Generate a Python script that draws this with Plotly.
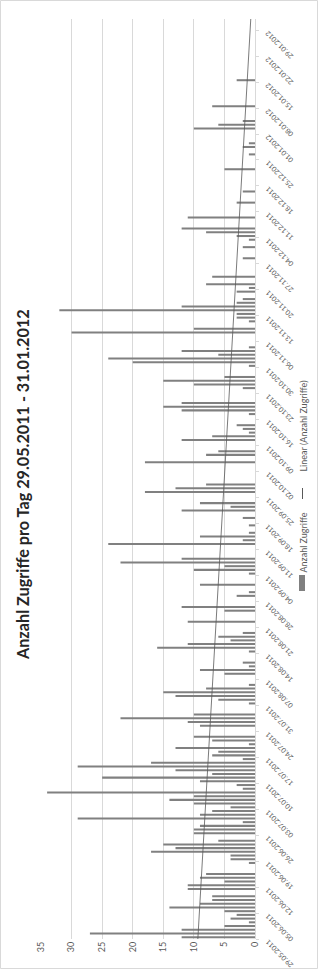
import numpy as np
import plotly.graph_objects as go

# ---------------- data ----------------
title_text = "Anzahl Zugriffe pro Tag 29.05.2011 - 31.01.2012"
series_name = "Anzahl Zugriffe"
trend_name = "Linear (Anzahl Zugriffe)"

# daily hits, one value per day from 29.05.2011 to 31.01.2012 (248 days)
daily_hits = [
    12, 27, 12, 5, 1, 4, 3, 5, 14, 9,
    7, 7, 0, 11, 11, 5, 9, 8, 0, 0,
    1, 4, 4, 17, 13, 15, 6, 0, 10, 10,
    9, 2, 29, 9, 7, 4, 10, 14, 10, 34,
    2, 3, 9, 25, 7, 13, 29, 17, 2, 7,
    6, 13, 1, 7, 10, 0, 0, 9, 11, 22,
    10, 0, 0, 1, 6, 13, 15, 8, 1, 0,
    0, 5, 9, 1, 2, 0, 0, 1, 16, 11,
    4, 6, 2, 0, 0, 11, 0, 0, 5, 12,
    0, 0, 3, 1, 0, 9, 0, 0, 1, 10,
    5, 22, 12, 0, 0, 0, 24, 2, 9, 1,
    0, 1, 0, 2, 0, 12, 4, 9, 0, 0,
    18, 13, 8, 0, 0, 0, 0, 0, 18, 0,
    8, 6, 0, 0, 12, 7, 1, 2, 3, 0,
    0, 1, 12, 15, 12, 0, 0, 0, 2, 10,
    15, 5, 0, 0, 1, 20, 24, 6, 12, 1,
    0, 0, 0, 30, 10, 0, 1, 3, 3, 32,
    12, 3, 2, 0, 3, 1, 8, 0, 7, 0,
    0, 0, 0, 2, 0, 0, 2, 0, 1, 3,
    8, 12, 0, 0, 11, 0, 0, 0, 3, 0,
    0, 2, 0, 0, 0, 0, 0, 5, 0, 0,
    0, 1, 0, 2, 1, 0, 0, 0, 10, 6,
    2, 0, 0, 0, 7, 0, 0, 0, 0, 0,
    0, 3, 0, 0, 0, 0, 0, 0, 0, 0,
    0, 0, 0, 0, 0, 0, 0, 0,
]

# weekly date-axis labels (every 7 days from the first day)
date_tick_labels = [
    "29.05.2011", "05.06.2011", "12.06.2011", "19.06.2011", "26.06.2011",
    "03.07.2011", "10.07.2011", "17.07.2011", "24.07.2011", "31.07.2011",
    "07.08.2011", "14.08.2011", "21.08.2011", "28.08.2011", "04.09.2011",
    "11.09.2011", "18.09.2011", "25.09.2011", "02.10.2011", "09.10.2011",
    "16.10.2011", "23.10.2011", "30.10.2011", "06.11.2011", "13.11.2011",
    "20.11.2011", "27.11.2011", "04.12.2011", "11.12.2011", "18.12.2011",
    "25.12.2011", "01.01.2012", "08.01.2012", "15.01.2012", "22.01.2012",
    "29.01.2012",
]
value_ticks = [0, 5, 10, 15, 20, 25, 30, 35]

# ---------------- geometry ----------------
W, H = 318, 969
L, R, T, B = 41, 63, 19, 30
PW = W - L - R
PH = H - T - B


def px(sx):
    return (sx - L) / PW


def py(sy):
    return (H - B - sy) / PH


n_days = len(daily_hits)
day_pos = np.arange(n_days) + 0.5
tick_days = [7 * k for k in range(len(date_tick_labels))]

# linear trend (least squares, like the spreadsheet trendline)
slope, intercept = np.polyfit(day_pos, np.array(daily_hits, dtype=float), 1)
trend_y = [0, n_days]
trend_x = [intercept + slope * v for v in trend_y]

BAR = "#808080"
TXT = "#595959"
GRID = "#d9d9d9"
FONT = "Lato"

fig = go.Figure()
fig.add_trace(go.Bar(
    x=daily_hits, y=day_pos, orientation="h", width=0.55,
    marker=dict(color=BAR, line=dict(width=0)), name=series_name,
    showlegend=False,
))
fig.add_trace(go.Scatter(
    x=trend_x, y=trend_y, mode="lines",
    line=dict(color="#595959", width=0.8), name=trend_name, showlegend=False,
))

fig.update_layout(
    width=W, height=H,
    margin=dict(l=L, r=R, t=T, b=B, pad=0),
    paper_bgcolor="white", plot_bgcolor="white",
    showlegend=False,
    font=dict(family=FONT, color=TXT),
)
fig.update_xaxes(
    range=[35, 0], tickvals=value_ticks, tickangle=-90,
    showgrid=True, gridcolor=GRID, gridwidth=1,
    zeroline=False, showline=False, ticks="",
    tickfont=dict(size=9, color=TXT, family=FONT),
)
fig.update_yaxes(
    range=[0, n_days], side="right", tickvals=tick_days,
    showticklabels=False, ticks="outside", ticklen=3, tickcolor=GRID,
    showgrid=False, zeroline=False, showline=True, linecolor=GRID, linewidth=1,
)

annotations = []
# title
annotations.append(dict(
    text="<b>" + title_text + "</b>", x=px(22), y=py(485), xref="paper", yref="paper",
    xanchor="center", yanchor="middle",
    showarrow=False, textangle=-90, font=dict(size=16.2, color="#262626", family=FONT),
))
# date labels
for d, lab in zip(tick_days, date_tick_labels):
    annotations.append(dict(
        text=lab, x=1, y=d, xref="paper", yref="y", xanchor="left", yanchor="top",
        xshift=7, yshift=2, showarrow=False, textangle=-135, borderpad=0,
        font=dict(size=7, color=TXT, family=FONT),
    ))
# legend texts
annotations.append(dict(
    text=series_name, x=px(302.5), y=py(543), xref="paper", yref="paper",
    xanchor="center", yanchor="middle",
    showarrow=False, textangle=-90, font=dict(size=9, color=TXT, family=FONT),
))
annotations.append(dict(
    text=trend_name, x=px(302.5), y=py(426), xref="paper", yref="paper",
    xanchor="center", yanchor="middle",
    showarrow=False, textangle=-90, font=dict(size=9, color=TXT, family=FONT),
))
fig.update_layout(annotations=annotations)

shapes = [
    # chart border
    dict(type="rect", xref="paper", yref="paper",
         x0=px(0.5), x1=px(W - 0.5), y0=py(H - 0.5), y1=py(0.5),
         line=dict(color=GRID, width=1), fillcolor="rgba(0,0,0,0)", layer="below"),
    # legend marker for bars
    dict(type="rect", xref="paper", yref="paper",
         x0=px(299), x1=px(305), y0=py(591), y1=py(575),
         line=dict(width=0), fillcolor=BAR),
    # legend marker for trend line
    dict(type="line", xref="paper", yref="paper",
         x0=px(302.5), x1=px(302.5), y0=py(499), y1=py(488),
         line=dict(color="#595959", width=1)),
]
fig.update_layout(shapes=shapes)

fig.write_html("out.html")
